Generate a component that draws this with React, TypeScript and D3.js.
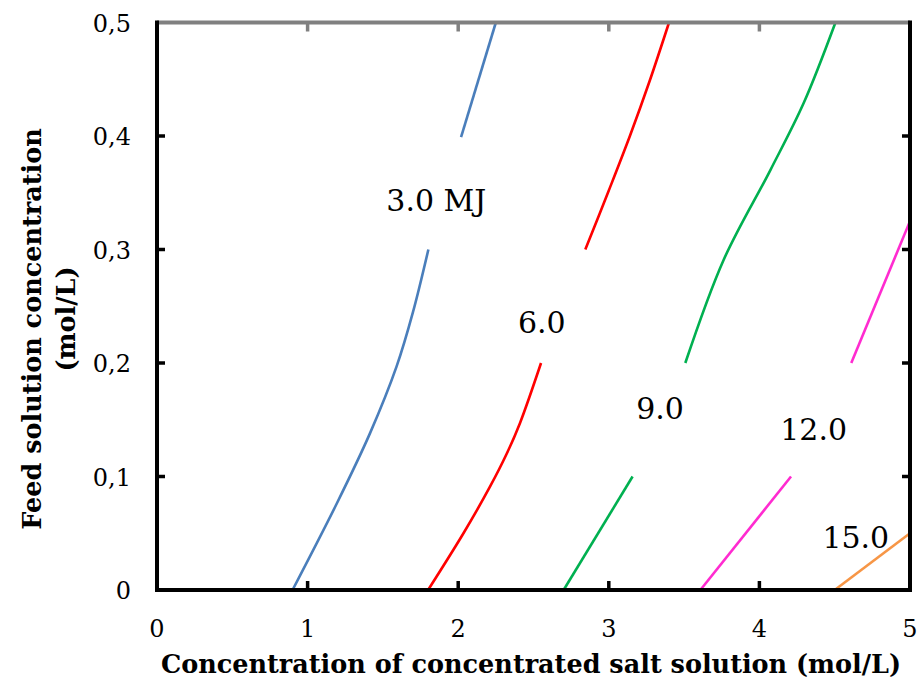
import React from "react";
import * as d3 from "d3";

const xTicks = [0, 1, 2, 3, 4, 5];
const xTickLabels = ["0", "1", "2", "3", "4", "5"];
const yTicks = [0, 0.1, 0.2, 0.3, 0.4, 0.5];
const yTickLabels = ["0", "0,1", "0,2", "0,3", "0,4", "0,5"];

// contour segments: [x (mol/L concentrated), y (mol/L feed)]
const blueLow: [number, number][] = [[0.9, 0], [1.193, 0.076], [1.414, 0.138], [1.591, 0.197], [1.7, 0.245], [1.802, 0.3]];
const blueHigh: [number, number][] = [[2.019, 0.399], [2.25, 0.5]];
const redLow: [number, number][] = [[1.8, 0], [2.035, 0.05], [2.211, 0.091], [2.322, 0.12], [2.41, 0.147], [2.55, 0.2]];
const redHigh: [number, number][] = [[2.844, 0.3], [3.0, 0.352], [3.14, 0.4], [3.27, 0.448], [3.4, 0.5]];
const greenLow: [number, number][] = [[2.7, 0], [3.158, 0.1]];
const greenHigh: [number, number][] = [[3.508, 0.2], [3.763, 0.291], [4.073, 0.37], [4.294, 0.429], [4.505, 0.5]];
const magentaLow: [number, number][] = [[3.608, 0], [4.21, 0.1]];
const magentaHigh: [number, number][] = [[4.61, 0.2], [5.0, 0.325]];
const orangeLow: [number, number][] = [[4.5, 0], [5.0, 0.05]];

const series = [
  { name: "3.0", color: "#4A7EBB", segments: [blueLow, blueHigh] },
  { name: "6.0", color: "#FF0000", segments: [redLow, redHigh] },
  { name: "9.0", color: "#00B050", segments: [greenLow, greenHigh] },
  { name: "12.0", color: "#FF2BD0", segments: [magentaLow, magentaHigh] },
  { name: "15.0", color: "#F79646", segments: [orangeLow] },
];

const labelTexts = ["3.0 MJ", "6.0", "9.0", "12.0", "15.0"];
const labelX = [1.855, 2.555, 3.34, 4.36, 4.64];
const labelY = [0.334, 0.226, 0.151, 0.132, 0.037];

const xTitle = "Concentration of concentrated salt solution (mol/L)";
const yTitle1 = "Feed solution concentration";
const yTitle2 = "(mol/L)";

const W = 919;
const H = 682;
const left = 157;
const right = 910;
const top = 22.5;
const bottom = 590;

const FONT = "'DejaVu Serif', 'Liberation Serif', serif";

export default function App() {
  const x = d3.scaleLinear().domain([0, 5]).range([left, right]);
  const y = d3.scaleLinear().domain([0, 0.5]).range([bottom, top]);
  const line = d3
    .line<[number, number]>()
    .x((d) => x(d[0]))
    .y((d) => y(d[1]))
    .curve(d3.curveCatmullRom.alpha(0.5));

  return (
    <svg
      width={W}
      height={H}
      style={{ position: "absolute", left: 0, top: 0, display: "block", background: "#fff" }}
      fontFamily={FONT}
    >
      <rect x={0} y={0} width={W} height={H} fill="#fff" />
      {/* contour lines */}
      {series.map((s) =>
        s.segments.map((seg, i) => (
          <path key={s.name + i} d={line(seg) || ""} fill="none" stroke={s.color} strokeWidth={2.6} />
        ))
      )}
      {/* top axis (gray) */}
      <line x1={left} x2={right} y1={y(0.5)} y2={y(0.5)} stroke="#808080" strokeWidth={4} />
      {xTicks.slice(1, -1).map((t) => (
        <line key={"tt" + t} x1={x(t)} x2={x(t)} y1={y(0.5)} y2={y(0.5) + 9} stroke="#808080" strokeWidth={3.5} />
      ))}
      {/* bottom axis */}
      <line x1={left - 2} x2={right + 2} y1={y(0)} y2={y(0)} stroke="#000" strokeWidth={4} />
      {xTicks.slice(1, -1).map((t) => (
        <line key={"bt" + t} x1={x(t)} x2={x(t)} y1={y(0)} y2={y(0) - 9} stroke="#000" strokeWidth={3.5} />
      ))}
      {/* left axis */}
      <line x1={left} x2={left} y1={y(0.5) - 2} y2={y(0) + 2} stroke="#000" strokeWidth={4} />
      {yTicks.slice(1, -1).map((t) => (
        <line key={"lt" + t} x1={left} x2={left + 8} y1={y(t)} y2={y(t)} stroke="#000" strokeWidth={3.5} />
      ))}
      {/* right axis */}
      <line x1={right} x2={right} y1={y(0.5) - 2} y2={y(0) + 2} stroke="#000" strokeWidth={4} />
      {yTicks.slice(1, -1).map((t) => (
        <line key={"rt" + t} x1={right} x2={right - 8} y1={y(t)} y2={y(t)} stroke="#000" strokeWidth={3.5} />
      ))}
      {/* tick labels */}
      {xTicks.map((t, i) => (
        <text key={"xl" + t} x={x(t)} y={637} textAnchor="middle" fontSize={24} fill="#000">
          {xTickLabels[i]}
        </text>
      ))}
      {yTicks.map((t, i) => (
        <text key={"yl" + t} x={131} y={y(t) + 9} textAnchor="end" fontSize={24} fill="#000">
          {yTickLabels[i]}
        </text>
      ))}
      {/* contour labels */}
      {labelTexts.map((l, i) => (
        <text key={"cl" + i} x={x(labelX[i])} y={y(labelY[i])} textAnchor="middle" fontSize={30} fill="#000">
          {l}
        </text>
      ))}
      {/* axis titles */}
      <text x={531} y={673} textAnchor="middle" fontSize={25.5} fontWeight="bold" fill="#000">
        {xTitle}
      </text>
      <text transform="translate(41,329) rotate(-90)" textAnchor="middle" fontSize={25.5} fontWeight="bold" fill="#000">
        {yTitle1}
      </text>
      <text transform="translate(75,319) rotate(-90)" textAnchor="middle" fontSize={25.5} fontWeight="bold" fill="#000">
        {yTitle2}
      </text>
    </svg>
  );
}
